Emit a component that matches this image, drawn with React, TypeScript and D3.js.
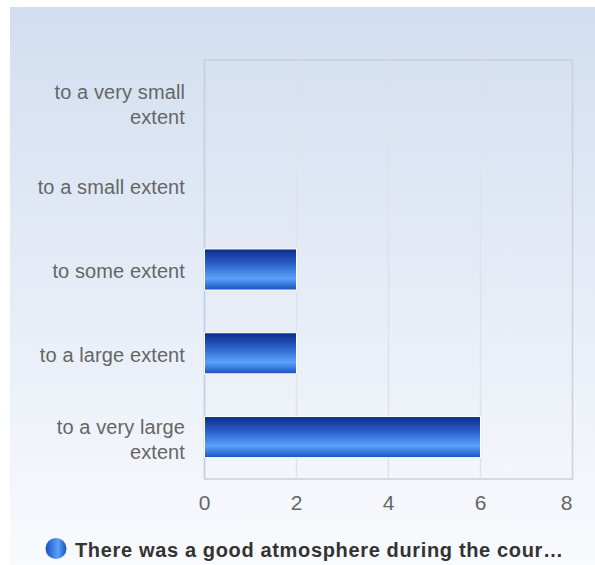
import React from "react";
import * as d3 from "d3";

const categories = [
  "to a very small extent",
  "to a small extent",
  "to some extent",
  "to a large extent",
  "to a very large extent",
];
const categoryLines = [
  ["to a very small", "extent"],
  ["to a small extent"],
  ["to some extent"],
  ["to a large extent"],
  ["to a very large", "extent"],
];
const values = [0, 0, 2, 2, 6];
const xTicks = [0, 2, 4, 6, 8];
const seriesName = "There was a good atmosphere during the cour\u2026";

const W = 595;
const H = 565;
const plot = { left: 204.5, right: 572.5, top: 60, bottom: 479 };

export default function App() {
  const x = d3.scaleLinear().domain([0, 8]).range([plot.left, plot.right]);
  const y = d3
    .scaleBand<string>()
    .domain(categories)
    .range([plot.top, plot.bottom])
    .paddingInner(0.51)
    .paddingOuter(0.255);
  const font = "'Liberation Sans', Arial, Helvetica, sans-serif";
  return (
    <svg
      width={W}
      height={H}
      style={{ position: "absolute", left: 0, top: 0, display: "block" }}
      fontFamily={font}
    >
      <defs>
        <linearGradient id="bg" x1="0" y1="0" x2="0" y2="1">
          <stop offset="0" stopColor="#d2def0" />
          <stop offset="1" stopColor="#f9fafd" />
        </linearGradient>
        <linearGradient id="bar" x1="0" y1="0" x2="0" y2="1">
          <stop offset="0" stopColor="#0b2a88" />
          <stop offset="0.35" stopColor="#2a5fc8" />
          <stop offset="0.72" stopColor="#5aa2fb" />
          <stop offset="1" stopColor="#1850c0" />
        </linearGradient>
        <linearGradient id="leg" x1="0" y1="0" x2="1" y2="0">
          <stop offset="0" stopColor="#1a4fbf" />
          <stop offset="0.6" stopColor="#5aa2fb" />
          <stop offset="1" stopColor="#1a4fbf" />
        </linearGradient>
      </defs>
      <rect x={0} y={0} width={W} height={H} fill="#ffffff" />
      <rect x={10} y={7} width={W - 10} height={H - 7} fill="url(#bg)" />
      {/* gridlines */}
      {xTicks.slice(1, -1).map((t) => (
        <line
          key={t}
          x1={x(t)}
          x2={x(t)}
          y1={plot.top}
          y2={plot.bottom}
          stroke="#dfe2e8"
          strokeWidth={1.5}
        />
      ))}
      {/* plot border */}
      <rect
        x={plot.left}
        y={plot.top}
        width={plot.right - plot.left}
        height={plot.bottom - plot.top}
        fill="none"
        stroke="#cdd0d6"
        strokeWidth={1.5}
      />
      <line
        x1={plot.left}
        x2={plot.left}
        y1={plot.top}
        y2={plot.bottom}
        stroke="#c4d2e8"
        strokeWidth={1.5}
      />
      {/* bars */}
      {categories.map((c, i) =>
        values[i] > 0 ? (
          <rect
            key={c}
            x={x(0)}
            y={y(c)}
            width={x(values[i]) - x(0)}
            height={y.bandwidth()}
            fill="url(#bar)"
            stroke="#ffffff"
            strokeWidth={1}
          />
        ) : null
      )}
      {/* category labels */}
      {categories.map((c, i) => {
        const lines = categoryLines[i];
        const cy = (y(c) as number) + y.bandwidth() / 2;
        const lh = 25;
        const y0 = cy - ((lines.length - 1) * lh) / 2 + (lines.length - 1) * 1.2;
        return (
          <text
            key={c}
            x={185}
            textAnchor="end"
            fontSize={20}
            fill="#666666"
            letterSpacing={0.1}
          >
            {lines.map((l, j) => (
              <tspan key={j} x={185} y={y0 + j * lh} dy="0.42em">
                {l}
              </tspan>
            ))}
          </text>
        );
      })}
      {/* x tick labels */}
      {xTicks.map((t, i) => (
        <text
          key={t}
          x={i === xTicks.length - 1 ? x(t) - 6 : x(t)}
          y={510}
          textAnchor="middle"
          fontSize={21}
          fill="#666666"
        >
          {t}
        </text>
      ))}
      {/* legend */}
      <circle cx={56} cy={548.5} r={10.5} fill="url(#leg)" />
      <text
        x={75}
        y={557.3}
        fontSize={20}
        fontWeight="bold"
        fill="#333333"
        letterSpacing={0.65}
      >
        {seriesName}
      </text>
    </svg>
  );
}
